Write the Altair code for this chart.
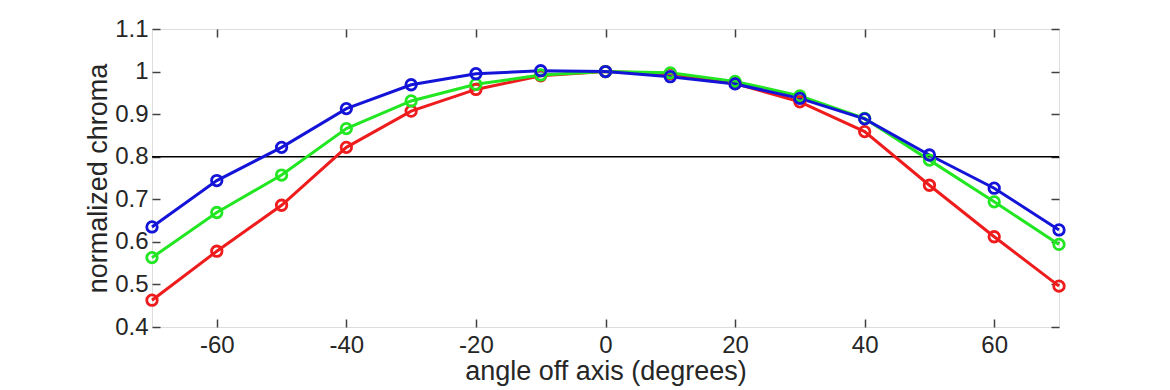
import altair as alt
import pandas as pd

angles = [-70, -60, -50, -40, -30, -20, -10, 0, 10, 20, 30, 40, 50, 60, 70]
red = [0.463, 0.578, 0.686, 0.822, 0.907, 0.958, 0.990, 1.000, 0.995, 0.972, 0.929, 0.859, 0.733, 0.612, 0.496]
green = [0.563, 0.669, 0.757, 0.866, 0.931, 0.970, 0.992, 1.000, 0.997, 0.977, 0.943, 0.890, 0.792, 0.694, 0.594]
blue = [0.635, 0.744, 0.822, 0.913, 0.969, 0.995, 1.002, 1.000, 0.988, 0.971, 0.937, 0.889, 0.804, 0.726, 0.628]
series_names = ["red", "green", "blue"]
series_colors = ["#ee1c1c", "#22e622", "#1414d8"]
x_ticks = [-60, -40, -20, 0, 20, 40, 60]
y_ticks = [0.4, 0.5, 0.6, 0.7, 0.8, 0.9, 1.0, 1.1]
threshold = [0.8]

rows = []
for name, vals in zip(series_names, [red, green, blue]):
    for a, v in zip(angles, vals):
        rows.append({"angle": a, "chroma": v, "series": name})
df = pd.DataFrame(rows)

FONT = "Liberation Sans"
xscale = alt.Scale(domain=[-70, 70], nice=False, zero=False)
yscale = alt.Scale(domain=[0.4, 1.1], nice=False, zero=False)
color = alt.Color("series:N", scale=alt.Scale(domain=series_names, range=series_colors), legend=None)

tick_axis_common = dict(labels=False, domain=False, title=None, grid=False, ticks=True,
                        tickSize=8, tickColor="#404040", tickWidth=1.5, offset=-8)

x_label_expr = "datum.value < 0 ? '-' + format(-datum.value, 'd') : format(datum.value, 'd')"

lines = alt.Chart(df).mark_line(strokeWidth=3).encode(
    x=alt.X("angle:Q", scale=xscale,
            axis=alt.Axis(values=x_ticks, labelExpr=x_label_expr, ticks=False, domain=False, grid=False,
                          title="angle off axis (degrees)", labelFontSize=24, titleFontSize=27,
                          labelFont=FONT, titleFont=FONT, labelColor="#262626", titleColor="#262626",
                          labelPadding=6, titlePadding=1, titleFontWeight="normal")),
    y=alt.Y("chroma:Q", scale=yscale,
            axis=alt.Axis(values=y_ticks, format=".1~f", ticks=False, domain=False, grid=False,
                          title="normalized chroma", labelFontSize=24, titleFontSize=27,
                          labelFont=FONT, titleFont=FONT, labelColor="#262626", titleColor="#262626",
                          labelPadding=4, titlePadding=2, titleFontWeight="normal")),
    color=color,
    detail="series:N",
)

points = alt.Chart(df).mark_point(shape="circle", filled=False, size=110, strokeWidth=2.8, opacity=1).encode(
    x=alt.X("angle:Q", scale=xscale, axis=alt.Axis(orient="bottom", values=x_ticks, **tick_axis_common)),
    y=alt.Y("chroma:Q", scale=yscale, axis=alt.Axis(orient="left", values=y_ticks, **tick_axis_common)),
    color=color,
)

frame_ticks = alt.Chart(df).mark_point(opacity=0).encode(
    x=alt.X("angle:Q", scale=xscale, axis=alt.Axis(orient="top", values=x_ticks, **tick_axis_common)),
    y=alt.Y("chroma:Q", scale=yscale, axis=alt.Axis(orient="right", values=y_ticks, **tick_axis_common)),
)

thr = alt.Chart(pd.DataFrame({"y": threshold})).mark_rule(color="black", strokeWidth=1.4).encode(
    y=alt.Y("y:Q", scale=yscale, axis=None)
)

chart = alt.layer(thr, lines, points, frame_ticks).resolve_axis(
    x="independent", y="independent"
).properties(
    width=907, height=298,
    autosize=alt.AutoSizeParams(type="none"),
    padding={"left": 144, "top": 21, "right": 100, "bottom": 62},
).configure_view(
    stroke="#404040", strokeWidth=1.5
).configure(background="white")

chart.save("out.html", embed_options={"renderer": "svg", "actions": False})
